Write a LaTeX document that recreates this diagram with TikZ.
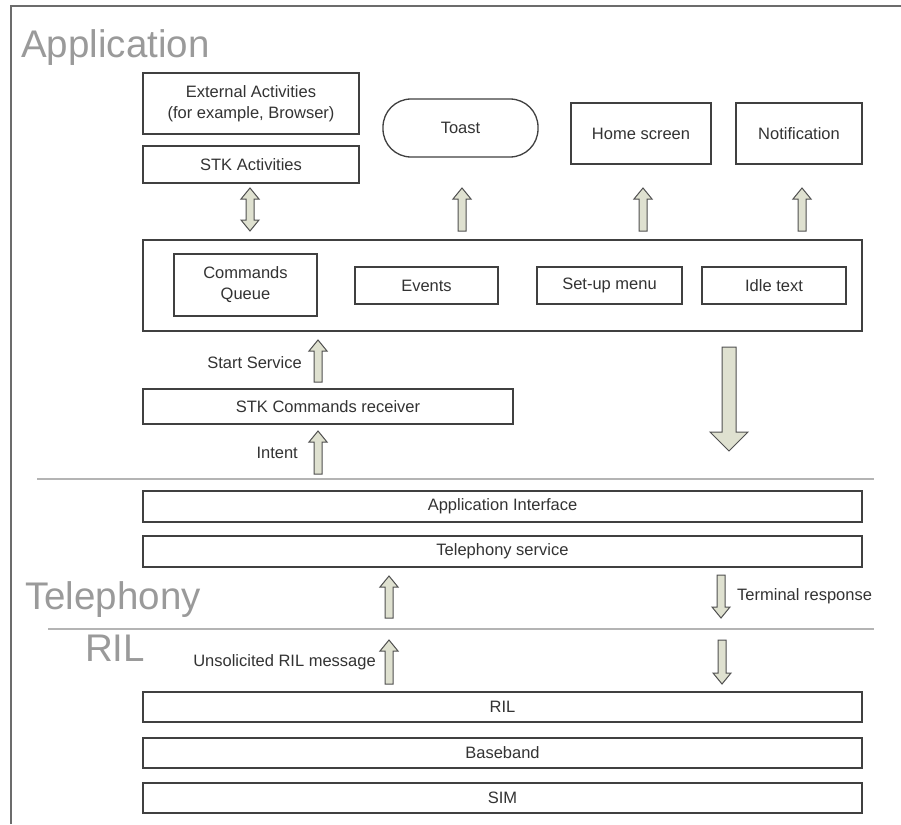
\documentclass[tikz,border=0pt]{standalone}
\usepackage{fontspec}
\setmainfont{Liberation Sans}
\definecolor{boxline}{HTML}{404040}
\definecolor{txt}{HTML}{333333}
\definecolor{biglabel}{HTML}{9A9A9A}
\definecolor{sepline}{HTML}{B4B4B4}
\definecolor{arrfill}{HTML}{DFE1D0}
\definecolor{arrline}{HTML}{505050}
\newcommand\arrup[3]{\filldraw[arr] ({#1-4},#2) -- ({#1-4},{#3+11}) -- ({#1-9},{#3+11}) -- (#1,#3) -- ({#1+9},{#3+11}) -- ({#1+4},{#3+11}) -- ({#1+4},#2) -- cycle;}
\newcommand\arrdn[3]{\filldraw[arr] ({#1-4},#2) -- ({#1-4},{#3-11}) -- ({#1-9},{#3-11}) -- (#1,#3) -- ({#1+9},{#3-11}) -- ({#1+4},{#3-11}) -- ({#1+4},#2) -- cycle;}
\newcommand\arrboth[3]{\filldraw[arr] ({#1-4},{#2+11}) -- ({#1-9},{#2+11}) -- (#1,#2) -- ({#1+9},{#2+11}) -- ({#1+4},{#2+11}) -- ({#1+4},{#3-11}) -- ({#1+9},{#3-11}) -- (#1,#3) -- ({#1-9},{#3-11}) -- ({#1-4},{#3-11}) -- cycle;}
\begin{document}
\begin{tikzpicture}[x=1pt,y=-1pt,
  box/.style={draw=boxline, line width=1.3pt, fill=white, inner sep=0pt, outer sep=0pt, anchor=north west, align=center, text=txt, font=\fontsize{16.5}{21}\selectfont},
  lbl/.style={inner sep=0pt, text=txt, font=\fontsize{16.5}{21}\selectfont},
  big/.style={inner sep=0pt, anchor=base west, text=biglabel, font=\fontsize{38.5}{42}\selectfont},
  arr/.style={fill=arrfill, draw=arrline, line width=1pt, line join=miter},
  sep/.style={draw=sepline, line width=2pt},
  border/.style={draw=gray!85!black, line width=2pt}]
\useasboundingbox (0,0) rectangle (901,824);
\fill[white] (0,0) rectangle (901,824);
\draw[border] (11,824) -- (11,6) -- (901,6);

% layer labels
\node[big] (lapp) at (21,58) {Application};
\node[big] (ltel) at (25,609) {Telephony};
\node[big] (lril) at (85,661) {RIL};

% top row
\node[box, minimum width=216pt, minimum height=61pt] (ext) at (143,73) {External Activities\\(for example, Browser)};
\node[box, minimum width=216pt, minimum height=37pt] (stka) at (143,146) {STK Activities};
\node[box, minimum width=155pt, minimum height=58pt, rounded corners=28pt] (toast) at (383,99) {Toast};
\node[box, minimum width=140pt, minimum height=61pt] (home) at (571,103) {Home screen};
\node[box, minimum width=126pt, minimum height=61pt] (notif) at (736,103) {Notification};

% service box
\node[box, minimum width=719pt, minimum height=91pt] (svc) at (143,240) {};
\node[box, minimum width=143pt, minimum height=62pt] (cq) at (174,254) {Commands\\Queue};
\node[box, minimum width=143pt, minimum height=37pt] (ev) at (355,267) {Events};
\node[box, minimum width=145pt, minimum height=37pt] (menu) at (537,267) {Set-up menu};
\node[box, minimum width=144pt, minimum height=37pt] (idle) at (702,267) {Idle text};

\node[box, minimum width=370pt, minimum height=35pt] (recv) at (143,389) {STK Commands receiver};

% telephony
\node[box, minimum width=719pt, minimum height=31pt] (api) at (143,491) {Application Interface};
\node[box, minimum width=719pt, minimum height=31pt] (tsvc) at (143,536) {Telephony service};

% RIL
\node[box, minimum width=719pt, minimum height=30pt] (ril) at (143,692) {RIL};
\node[box, minimum width=719pt, minimum height=30pt] (bb) at (143,738) {Baseband};
\node[box, minimum width=719pt, minimum height=30pt] (sim) at (143,783) {SIM};

% separators
\coordinate (s1a) at (37,479); \coordinate (s1b) at (874,479);
\coordinate (s2a) at (48,629); \coordinate (s2b) at (874,629);
\draw[sep] (s1a) -- (s1b);
\draw[sep] (s2a) -- (s2b);

% arrows
\arrboth{250}{188}{231}
\arrup{462}{231}{188}
\arrup{643}{231}{188}
\arrup{802}{231}{188}
\arrup{318}{382}{340}
\arrup{318}{474}{431}
\filldraw[arr] (722,347) -- (722,432) -- (710,432) -- (729,451) -- (748,432) -- (736,432) -- (736,347) -- cycle;
\arrup{389}{618}{576}
\arrdn{721}{575}{618}
\arrup{389}{684}{640}
\arrdn{722}{640}{684}

% arrow labels
\node[lbl, anchor=east] (tss) at (302,363) {Start Service};
\node[lbl, anchor=east] (tint) at (298,453) {Intent};
\node[lbl, anchor=west] (tterm) at (737,596) {Terminal response};
\node[lbl, anchor=east] (tuns) at (376,662) {Unsolicited RIL message};
\end{tikzpicture}
\end{document}
